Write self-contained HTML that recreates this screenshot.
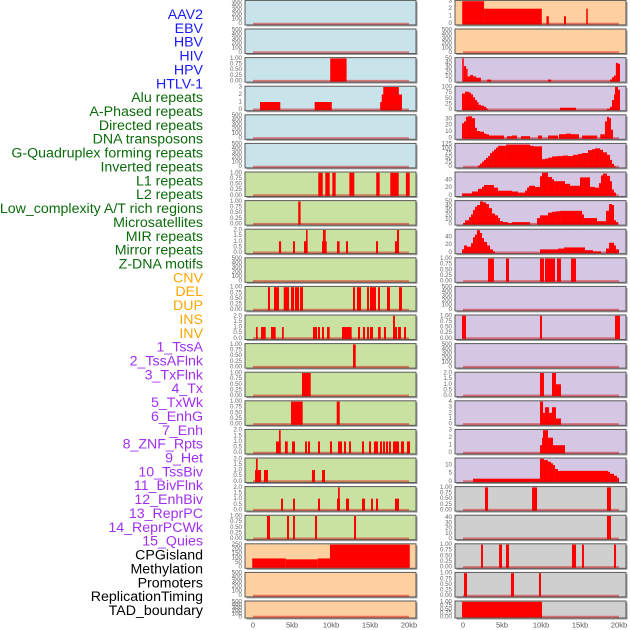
<!DOCTYPE html>
<html><head><meta charset="utf-8"><style>
html,body{margin:0;padding:0;background:#fff;}
svg{display:block;font-family:"Liberation Sans",sans-serif;}
</style></head><body>
<svg id="chart" width="630" height="630" viewBox="0 0 630 630" xmlns="http://www.w3.org/2000/svg">
<g id="labels"></g>
<g id="panels"></g>
<g id="xaxis"></g>
</svg>
<script>
// ---------- DATA ----------
const trackNames = ["AAV2","EBV","HBV","HIV","HPV","HTLV-1","Alu repeats","A-Phased repeats","Directed repeats","DNA transposons","G-Quadruplex forming repeats","Inverted repeats","L1 repeats","L2 repeats","Low_complexity A/T rich regions","Microsatellites","MIR repeats","Mirror repeats","Z-DNA motifs","CNV","DEL","DUP","INS","INV","1_TssA","2_TssAFlnk","3_TxFlnk","4_Tx","5_TxWk","6_EnhG","7_Enh","8_ZNF_Rpts","9_Het","10_TssBiv","11_BivFlnk","12_EnhBiv","13_ReprPC","14_ReprPCWk","15_Quies","CPGisland","Methylation","Promoters","ReplicationTiming","TAD_boundary"];
const trackGroups = ["v","v","v","v","v","v","r","r","r","r","r","r","r","r","r","r","r","r","r","c","c","c","c","c","s","s","s","s","s","s","s","s","s","s","s","s","s","s","s","k","k","k","k","k"];
const xTicks = [0,5,10,15,20];
const xTickLabels = ["0","5kb","10kb","15kb","20kb"];

const ticks500 = [0,100,200,300,400,500];
const ticks1 = [0,0.25,0.5,0.75,1];
const ticks1Labels = ["0.00","0.25","0.50","0.75","1.00"];
const ticks2 = [0,0.5,1,1.5,2];
const ticks2Labels = ["0.0","0.5","1.0","1.5","2.0"];
const ticks3 = [0,1,2,3];

// left column segments [startKb, endKb, value]
const L0 = [];
const L1 = [];
const L2 = [[9.9,12.0,1]];
const L3 = [[0.9,3.5,1],[7.9,10.1,1],[16.3,19.1,1],[16.5,19.1,2],[16.7,18.7,3]];
const L4 = [];
const L5 = [];
const L6 = [[8.37,8.94,1],[9.27,9.83,1],[10.17,10.6,1],[12.35,12.99,1],[15.8,16.24,1],[17.6,18.68,1],[19.6,20.09,1]];
const L7 = [[5.8,6.1,1]];
const L8 = [[3.33,3.6,1],[5.13,5.38,1],[6.54,7.0,1],[6.8,7.0,2],[8.85,9.45,1],[8.97,9.32,2],[10.77,11.1,1],[11.92,12.18,1],[15.77,16.03,1],[18.2,18.72,1],[18.46,18.72,2]];
const L9 = [];
const L10 = [[1.92,2.18,1],[2.69,3.33,1],[3.94,4.62,1],[4.87,5.26,1],[5.38,5.9,1],[6.03,6.41,1],[12.82,13.08,1],[13.33,13.85,1],[14.62,14.87,1],[15.0,15.77,1],[16.03,16.28,1],[17.18,17.56,1],[18.72,19.1,1]];
const L11 = [[0.38,0.6,1],[1.03,1.63,1],[2.31,2.91,1],[3.72,3.94,1],[7.69,8.21,1],[8.33,8.59,1],[8.85,9.1,1],[9.49,9.83,1],[11.41,12.65,1],[13.46,13.72,1],[14.1,14.36,1],[14.62,14.87,1],[15.0,15.38,1],[16.03,16.37,1],[16.79,17.05,1],[17.95,18.46,1],[17.95,18.2,2],[18.59,18.97,1],[19.36,19.62,1]];
const L12 = [[12.82,13.17,1]];
const L13 = [[6.28,7.4,1]];
const L14 = [[4.87,6.37,1],[10.73,11.12,1]];
const L15 = [[2.95,3.55,1],[3.33,3.55,2],[4.1,4.45,1],[5.0,5.38,1],[6.67,6.92,1],[7.05,7.31,1],[8.33,8.59,1],[9.87,10.13,1],[10.9,11.41,1],[11.67,11.92,1],[12.31,12.56,1],[13.97,14.23,1],[14.87,15.13,1],[15.51,16.03,1],[16.28,16.54,1],[16.67,16.92,1],[17.05,17.31,1],[17.44,17.69,1],[17.95,18.72,1],[18.97,19.36,1],[19.74,20.13,1]];
const L16 = [[0.26,1.03,1],[0.38,0.6,2],[1.41,1.92,1],[7.56,7.95,1],[8.85,9.23,1]];
const L17 = [[3.59,3.85,1],[5.13,5.38,1],[8.33,8.59,1],[10.77,11.15,1],[10.9,11.12,2],[11.92,12.31,1],[13.97,14.36,1],[15.13,15.38,1],[15.77,16.03,1],[18.2,18.72,1]];
const L18 = [[1.79,2.18,1],[4.36,4.62,1],[5.13,5.38,1],[7.95,8.21,1],[12.95,13.21,1]];
const L19 = [[-0.1,4.2,96],[4.2,8.3,86],[8.3,9.87,96],[9.87,20.1,250]];
const L20 = [];
const L21 = [];

// right column segments
const R0 = [[-0.1,2.7,3],[2.7,10.1,2],[10.7,11.0,1],[12.95,13.2,1],[15.8,16.0,2]];
const R1 = [];
const R2 = [[-0.1,0.1,50],[0.1,0.4,33],[0.4,0.5,27],[0.5,0.9,10],[0.9,1.3,13],[1.3,1.67,10],[1.67,2.3,7],[3.1,3.6,3],[10.9,11.3,3],[18.85,19.1,3],[19.1,19.36,8],[19.36,19.6,12],[19.6,19.87,40],[19.87,20.13,38]];
const R3 = [[-0.13,0.26,71],[0.26,0.77,79],[0.77,1.03,75],[1.03,1.28,67],[1.28,1.54,54],[1.54,1.79,42],[1.79,1.92,33],[1.92,2.31,21],[2.31,2.69,17],[2.69,2.95,12],[2.95,3.08,6],[12.44,14.49,8],[18.46,18.85,4],[18.85,19.1,12],[19.1,19.36,42],[19.36,19.49,67],[19.49,19.87,100],[19.87,20.13,88]];
const R4 = [[-0.13,0.13,23],[0.13,0.38,26],[0.38,0.64,33],[0.64,1.15,34],[1.15,1.54,31],[1.54,1.79,16],[1.79,2.18,11],[2.18,2.69,10],[2.69,2.95,7],[2.95,3.33,6],[3.33,5.26,4],[5.64,6.28,3],[6.28,6.92,4],[7.44,8.59,3],[9.62,10.13,4],[10.9,12.18,4],[12.31,13.21,6],[13.21,13.85,7],[13.85,14.87,6],[15.26,17.2,4],[17.6,18.2,6],[18.2,18.46,26],[18.46,18.72,33],[18.72,18.97,31],[18.97,19.23,13]];
const R5 = [[1.92,2.18,7],[2.18,2.44,17],[2.44,2.69,28],[2.69,2.95,38],[2.95,3.21,49],[3.21,3.46,59],[3.46,3.72,75],[3.72,3.97,85],[3.97,4.23,95],[4.23,4.49,106],[4.49,5.51,116],[5.51,8.59,123],[8.59,9.1,116],[9.1,10.13,113],[10.13,10.51,42],[10.51,10.9,45],[10.9,11.41,50],[11.41,12.05,57],[12.05,12.82,59],[12.82,13.46,62],[13.46,14.1,59],[14.1,14.74,66],[14.74,15.26,71],[15.26,16.03,76],[16.03,16.54,92],[16.54,16.92,97],[16.92,17.56,102],[17.56,17.95,94],[17.95,18.46,80],[18.46,18.85,66],[18.85,19.1,38],[19.1,19.36,16],[19.36,19.53,3]];
const R6 = [[-0.13,1.15,5],[1.15,1.92,10],[1.92,2.44,17],[2.44,2.69,22],[2.69,3.97,27],[3.97,4.49,20],[4.49,6.28,12],[6.28,7.05,10],[7.05,7.95,7],[7.95,8.21,12],[8.21,8.46,20],[8.46,9.23,25],[9.23,9.87,22],[9.87,10.13,50],[10.13,10.9,59],[10.9,11.41,48],[11.41,11.67,42],[11.67,12.31,37],[12.31,13.08,37],[13.08,13.72,30],[13.72,15.0,25],[15.0,15.51,47],[15.51,16.28,47],[16.28,16.92,22],[16.92,17.44,20],[17.44,17.69,32],[17.69,17.95,52],[17.95,18.46,57],[18.46,18.85,51],[18.85,19.1,37],[19.1,19.36,15],[19.36,19.62,7]];
const R7 = [[0,0.26,2],[0.26,0.77,8],[0.77,1.03,15],[1.03,1.28,21],[1.28,1.54,31],[1.54,1.79,38],[1.79,2.18,42],[2.18,2.56,50],[2.56,2.95,48],[2.95,3.33,44],[3.33,3.72,35],[3.72,4.1,23],[4.1,4.49,19],[4.49,4.74,13],[4.74,5.13,6],[5.13,5.77,4],[5.77,6.28,2],[6.28,8.59,4],[9.49,9.87,13],[9.87,10.9,19],[10.9,11.41,25],[11.41,11.92,27],[11.92,12.44,28],[12.44,15.26,29],[15.26,15.51,21],[15.51,17.18,13],[17.18,18.33,6],[18.33,18.72,29],[18.72,19.1,44],[19.1,19.36,42],[19.36,19.62,8],[19.62,19.87,4]];
const R8 = [[-0.13,0.13,8],[0.13,0.51,18],[0.51,1.03,15],[1.03,1.28,24],[1.28,1.54,39],[1.54,1.79,46],[1.79,2.18,57],[2.18,2.44,50],[2.44,2.69,37],[2.69,3.08,27],[3.08,3.46,18],[3.46,3.85,8],[3.85,4.1,3],[9.87,12.18,8],[12.18,12.95,10],[12.95,15.64,13],[15.64,16.67,6],[16.67,17.69,3],[18.33,18.72,10],[18.72,19.36,25],[19.36,19.62,18],[19.62,20.0,8]];
const R9 = [[3.21,3.97,1],[5.51,5.9,1],[9.87,10.38,1],[10.51,11.8,1],[12.05,12.56,1],[13.85,14.49,1]];
const R10 = [];
const R11 = [[-0.13,0.38,1],[9.87,10.13,1],[19.49,20.13,1]];
const R12 = [];
const R13 = [[9.87,10.38,2],[11.41,11.92,2],[11.92,12.56,1]];
const R14 = [[9.87,10.26,4],[10.26,10.51,2],[10.51,11.03,3],[11.03,11.41,2],[11.41,11.92,3],[11.92,12.56,1]];
const R15 = [[9.87,10.13,1],[10.13,10.26,2],[10.26,10.9,3],[10.9,11.54,2],[11.54,13.08,1]];
const R16 = [[1.28,9.87,1.6],[9.87,10.38,13.8],[10.38,10.9,13],[10.9,11.28,12],[11.28,11.54,11],[11.54,11.79,10],[11.79,12.18,7.6],[12.18,18.59,6.4],[18.59,18.85,5.8],[18.85,19.36,4.6],[19.36,19.74,3.4],[19.74,20.0,2.2]];
const R17 = [[2.82,3.21,1],[8.85,9.49,1],[18.46,18.97,1]];
const R18 = [[18.46,18.97,43]];
const R19 = [[2.31,2.56,1],[4.62,5.0,1],[5.51,5.9,1],[13.97,14.49,1],[15.26,15.51,1],[19.36,19.62,1]];
const R20 = [[0.13,0.51,1],[6.15,6.54,1],[9.74,10.0,1]];
const R21 = [[-0.13,10.13,1]];

// ---------- RENDER ----------
const NS = "http://www.w3.org/2000/svg";
const groupColor = {v:"#1a1aff",r:"#0b6b0b",c:"#ffa500",s:"#a030f0",k:"#000000"};
const BG = {b:"#c8e3ea",g:"#c9e1a1",o:"#fecf9f",p:"#d5c6e3",y:"#cfcfcf"};

const leftCol = [L0,L1,L2,L3,L4,L5,L6,L7,L8,L9,L10,L11,L12,L13,L14,L15,L16,L17,L18,L19,L20,L21];
const rightCol = [R0,R1,R2,R3,R4,R5,R6,R7,R8,R9,R10,R11,R12,R13,R14,R15,R16,R17,R18,R19,R20,R21];
const leftBg = "bbbbbbgggggggggggggooo".split("");
const rightBg = "ooppppppppppppppppyyyyy".slice(0,2).split("").concat("ppppppppppppppp".split(""), "yyyyy".split(""));
const leftY = [[500,ticks500],[500,ticks500],[1,ticks1,ticks1Labels],[3,ticks3],[500,ticks500],[500,ticks500],[1,ticks1,ticks1Labels],[1,ticks1,ticks1Labels],[2,ticks2,ticks2Labels],[500,ticks500],[1,ticks1,ticks1Labels],[2,ticks2,ticks2Labels],[1,ticks1,ticks1Labels],[1,ticks1,ticks1Labels],[1,ticks1,ticks1Labels],[2,ticks2,ticks2Labels],[2,ticks2,ticks2Labels],[2,ticks2,ticks2Labels],[1,ticks1,ticks1Labels],[250,[0,50,100,150,200,250]],[500,ticks500],[500,ticks500]];
const rightY = [[3,ticks3],[500,ticks500],[50,[0,10,20,30,40,50]],[100,[0,25,50,75,100]],[35,[0,10,20,30]],[125,[0,25,50,75,100,125]],[59,[0,20,40]],[50,[0,10,20,30,40,50]],[57.6,[0,20,40]],[1,ticks1,ticks1Labels],[500,ticks500],[1,ticks1,ticks1Labels],[500,ticks500],[2,ticks2,ticks2Labels],[4,[0,1,2,3,4]],[3,ticks3],[13.8,[0,5,10]],[1,ticks1,ticks1Labels],[43,[0,10,20,30,40]],[1,ticks1,ticks1Labels],[1,ticks1,ticks1Labels],[1,ticks1,ticks1Labels]];

function mk(tag, attrs, parent){
  const e = document.createElementNS(NS, tag);
  for (const k in attrs) e.setAttribute(k, attrs[k]);
  parent.appendChild(e);
  return e;
}

// labels
const lg = document.getElementById("labels");
trackNames.forEach((n,i)=>{
  const t = mk("text",{x:203,y:15+13.86*i,"text-anchor":"end","dominant-baseline":"central","font-size":"14.2",fill:groupColor[trackGroups[i]]},lg);
  
  
  t.textContent = n;
});

const pg = document.getElementById("panels");
function panelTop(r){ return 0.4 + 28.6*r; }
function panelH(r){ return r===21 ? 17 : 24.5; }

function drawCol(col, bgs, yspecs, px0, side){
  const x0 = px0 + 8, scale = 7.8;
  const xs = kb => x0 + kb*scale;
  col.forEach((segs, r)=>{
    const top = panelTop(r), h = panelH(r);
    const g = mk("g",{},pg);
    
    
    mk("rect",{x:px0+1.5,y:top+1.5,width:171,height:h,fill:"#9a9a9a"},g);
    const bg = mk("rect",{x:px0,y:top,width:171,height:h,fill:BG[bgs[r]],stroke:"#5a5a5a","stroke-width":"1"},g);
    
    
    const [ymax, tks, tlabels] = yspecs[r];
    const y0 = top + h - 1.2, y1 = top + 0.8;
    const ys = v => y0 - (v/ymax)*(y0-y1);
    tks.forEach((tv,ti)=>{
      const t = mk("text",{x:px0-3,y:ys(tv),"text-anchor":"end","dominant-baseline":"central","font-size":"6.2",fill:"#666"},g);
      
      
      t.textContent = tlabels ? tlabels[ti] : String(tv);
    });
    segs.forEach(s=>{
      const xa = Math.max(xs(s[0]), px0+0.5), xb = Math.min(xs(s[1]), px0+170.5);
      const b = mk("rect",{x:xa,y:ys(s[2]),width:Math.max(xb-xa,1.5),height:y0-ys(s[2])+0.6,fill:"#ff0000"},g);
      
      
    });
    const bl = mk("line",{x1:xs(0),x2:xs(20),y1:y0,y2:y0,stroke:"rgba(210,0,0,0.45)","stroke-width":"2"},g);
    
    
  });
  const xg = document.getElementById("xaxis");
  xTicks.forEach((tv,i)=>{
    const t = mk("text",{x:xs(tv),y:625,"text-anchor":"middle","dominant-baseline":"central","font-size":"7.5",fill:"#555"},xg);
    
    
    t.textContent = xTickLabels[i];
  });
}
drawCol(leftCol, leftBg, leftY, 245, "left");
drawCol(rightCol, rightBg, rightY, 455, "right");
</script>
</body></html>
